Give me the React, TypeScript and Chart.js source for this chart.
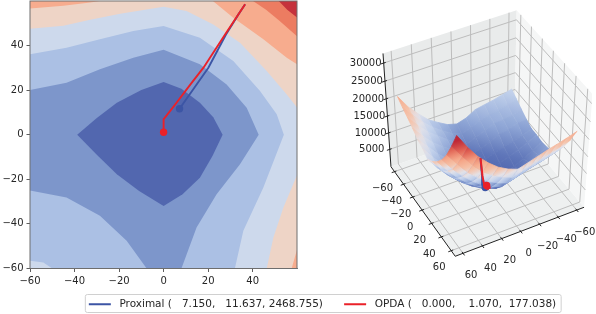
import React, { useEffect, useRef } from "react";
import { Chart, registerables } from "chart.js";

Chart.register(...registerables);

const FONT = "'DejaVu Sans'";
const TEXT = "#262626";

// ---- left panel: contour regions {f < level}, in data units ----
const fullRegion = [[-60, -60], [60, -60], [60, 60], [-60, 60]];
const below28k = [[-60, -60], [60, -60], [60, 52.4], [55.5, 56], [51.6, 60], [-60, 60]];
const below24k = [[-60, -60], [60, -60], [60, 44], [52, 51], [46, 56], [40, 60], [-60, 60]];
const below20k = [[-60, -60], [57.5, -60], [60, -51.3], [60, 31.5], [55.3, 34.5], [44.8, 42.7], [31.3, 52.4], [22, 60], [-28, 60], [-33, 59.2], [-45, 57.8], [-60, 56.5]];
const below16k = [[-60, -60], [46.3, -60], [49.3, -46.1], [53.8, -32.7], [60, -18], [60, 12], [55.3, 18], [46.3, 28.5], [34.3, 41.2], [22.3, 49.4], [10.3, 55.4], [0, 57.3], [-19.5, 54.2], [-33, 51.5], [-45, 48.8], [-60, 47.5]];
const below12k = [[-50, -60], [32, -60], [35.8, -43.1], [44.8, -23.7], [54, 0], [50.8, 9.1], [43.3, 19.6], [31.3, 33], [16.3, 43.4], [0, 48.7], [-13.6, 46.4], [-28.6, 42.7], [-43.6, 39], [-60, 36], [-60, -56.5], [-54, -57.3]];
const below8k = [[-7.6, -60], [8, -60], [14.8, -41.6], [23.8, -26.7], [34.3, -13.3], [42.7, 0], [37.3, 12], [28.3, 22.5], [16.3, 31.5], [0, 38], [-13.6, 34.5], [-28.6, 29.3], [-43.6, 23.3], [-60, 20], [-60, -25], [-43.6, -28.2], [-28.6, -36.4], [-16.6, -47.6]];
const below4k = [[-38.8, 0], [-30, 7.5], [-21, 14.3], [-10, 20], [0, 23.6], [8, 20.6], [16.3, 14.3], [22.3, 7.8], [26.5, 0], [22, -9.5], [16.3, -19.3], [8.5, -26.7], [0, -32], [-11, -25.3], [-21, -17.8], [-30, -9]];
const regionList = [fullRegion, below28k, below24k, below20k, below16k, below12k, below8k, below4k];
const regionColors = ["#c5323c", "#ec7c61", "#f7ac8e", "#eed4c6", "#cdd9ec", "#abc0e4", "#7d96cb", "#5267af"];
const planeTicks = [-60, -40, -20, 0, 20, 40];

// ---- the two paths ----
const proximalX = [36.6, 33.6, 28, 20.1, 13, 7.15];
const proximalY = [58.4, 53.9, 44.9, 30, 19.9, 11.637];
const proximalZ = [23500, 20000, 14900, 8360, 4550, 2468.755];
const opdaX = [36.6, 27.6, 17.9, 11.8, 5.8, 0.6, 0, 0];
const opdaY = [58.4, 44.9, 30, 22.2, 14.3, 7.6, 7, 1.07];
const opdaZ = [23500, 14800, 7940, 4800, 2400, 900, 820, 177.038];
const proximalLabel = "Proximal (   7.150,   11.637, 2468.755)";
const opdaLabel = "OPDA (   0.000,    1.070,  177.038)";
const proximalColor = "#3c55a5";
const opdaColor = "#ea2129";

// ---- right panel: surface heights, rows y = -60..60, columns x = -60..60 ----
const gridAxis = [-60, -50, -40, -30, -20, -10, 0, 10, 20, 30, 40, 50, 60];
const surfaceZ = [
  [12300, 11600, 10900, 10400, 9880, 8300, 7500, 8280, 9900, 11700, 14400, 17400, 21300],
  [11050, 10300, 9700, 9100, 8400, 7300, 6250, 7450, 9200, 11200, 13700, 16700, 20000],
  [9800, 9040, 8600, 8450, 7330, 6180, 5000, 6580, 8380, 10500, 12740, 15600, 18900],
  [8550, 8400, 7500, 6900, 5700, 4530, 3750, 5030, 7230, 9150, 11400, 14350, 17700],
  [7600, 6540, 5720, 5020, 4100, 3280, 2500, 3580, 4880, 7300, 9940, 13100, 16300],
  [7550, 6210, 5010, 3950, 2940, 2030, 1250, 2330, 3930, 6050, 8690, 11850, 15520],
  [7300, 5640, 4160, 2860, 1730, 780, 0, 1080, 2680, 4800, 7440, 10600, 14270],
  [7580, 6240, 5040, 3980, 2970, 2060, 1280, 2360, 3960, 6080, 8720, 11880, 15550],
  [8010, 7200, 6370, 5640, 4790, 3940, 3160, 4240, 5840, 7960, 10600, 13760, 17430],
  [10460, 9600, 8820, 8120, 7290, 6440, 5660, 6740, 8340, 10460, 13100, 16260, 19930],
  [13580, 12720, 11940, 11240, 10410, 9560, 8780, 9860, 11460, 13580, 16220, 19600, 23300],
  [17300, 16440, 15660, 14960, 14130, 13280, 12500, 13580, 15180, 17300, 20200, 23800, 27600],
  [21640, 20780, 20000, 19300, 18470, 17620, 16840, 17920, 19520, 21800, 24600, 28200, 32400],
];
const axisTicks3d = [-60, -40, -20, 0, 20, 40, 60];
const zTicks3d = [5000, 10000, 15000, 20000, 25000, 30000];
const colorLevels = [0, 4000, 8000, 12000, 15000, 18000, 22000, 26000, 30000];
const colorStops = [[70, 90, 168], [95, 118, 185], [145, 168, 215], [195, 210, 236], [228, 226, 232], [245, 195, 170], [245, 165, 135], [225, 100, 85], [190, 40, 55]];

// view of the 3D box
const AZ = (62 * Math.PI) / 180;
const EL = (45 * Math.PI) / 180;
const DIST = 10;
const HZ = 1.15;
const LIM = 68;
const ZMIN = -400;
const ZMAX = 32600;
const SX = 153;
const SY = 143;
const CX = 487;
const CY = 132;

function project(x: number, y: number, z: number) {
  const px = x / (2 * LIM);
  const py = y / (2 * LIM);
  const pz = ((z - ZMIN) / (ZMAX - ZMIN) - 0.5) * HZ;
  const r = -Math.sin(AZ) * px + Math.cos(AZ) * py;
  const u = -Math.sin(EL) * Math.cos(AZ) * px - Math.sin(EL) * Math.sin(AZ) * py + Math.cos(EL) * pz;
  const d = Math.cos(EL) * Math.cos(AZ) * px + Math.cos(EL) * Math.sin(AZ) * py + Math.sin(EL) * pz;
  const f = DIST / (DIST - d);
  return { x: r * f, y: u * f, d };
}

function shade(z: number) {
  if (z <= colorLevels[0]) return colorStops[0];
  for (let i = 1; i < colorLevels.length; i++) {
    if (z <= colorLevels[i]) {
      const t = (z - colorLevels[i - 1]) / (colorLevels[i] - colorLevels[i - 1]);
      return colorStops[i - 1].map((c, k) => c + (colorStops[i][k] - c) * t);
    }
  }
  return colorStops[colorStops.length - 1];
}
const rgb = (c: number[]) => `rgb(${Math.round(c[0])},${Math.round(c[1])},${Math.round(c[2])})`;

function line3d(pts: number[][], color: string, width: number, order: number) {
  return {
    data: pts.map((p) => project(p[0], p[1], p[2])),
    showLine: true, pointRadius: 0, borderColor: color, borderWidth: width, backgroundColor: color, fill: false, order,
  };
}
function pane3d(pts: number[][], color: string, order: number) {
  return {
    data: pts.map((p) => project(p[0], p[1], p[2])),
    showLine: true, pointRadius: 0, borderWidth: 0, borderColor: color, backgroundColor: color, fill: "shape", order,
  };
}

function surfaceDatasets() {
  const quads: any[] = [];
  for (let j = 0; j < gridAxis.length - 1; j++) {
    for (let i = 0; i < gridAxis.length - 1; i++) {
      const corners = [[i, j], [i + 1, j], [i + 1, j + 1], [i, j + 1]].map(([a, b]) => ({
        p: project(gridAxis[a], gridAxis[b], surfaceZ[b][a]),
        z: surfaceZ[b][a],
      }));
      const depth = corners.reduce((s, c) => s + c.p.d, 0) / 4;
      quads.push({ corners, depth });
    }
  }
  quads.sort((a, b) => a.depth - b.depth);
  return quads.map((q, idx) => {
    const lo = q.corners.reduce((m: any, c: any) => (c.z < m.z ? c : m));
    const hi = q.corners.reduce((m: any, c: any) => (c.z > m.z ? c : m));
    const paint = (ctx: any) => {
      const chart = ctx.chart;
      const sx = chart.scales.x;
      const sy = chart.scales.y;
      const flat = rgb(shade((lo.z + hi.z) / 2));
      if (!sx || !sy) return flat;
      const x0 = sx.getPixelForValue(lo.p.x);
      const y0 = sy.getPixelForValue(lo.p.y);
      const x1 = sx.getPixelForValue(hi.p.x);
      const y1 = sy.getPixelForValue(hi.p.y);
      if (![x0, y0, x1, y1].every(Number.isFinite) || Math.hypot(x1 - x0, y1 - y0) < 1) return flat;
      const g = chart.ctx.createLinearGradient(x0, y0, x1, y1);
      for (let k = 0; k <= 4; k++) g.addColorStop(k / 4, rgb(shade(lo.z + ((hi.z - lo.z) * k) / 4)));
      return g;
    };
    return {
      data: q.corners.map((c: any) => ({ x: c.p.x, y: c.p.y })),
      showLine: true, pointRadius: 0, borderWidth: 0.8, borderColor: paint, backgroundColor: paint, fill: "shape",
      order: 3000 - idx,
    };
  });
}

function pathDataset(xs: number[], ys: number[], zs: number[], color: string, order: number, radius: number) {
  const last = xs.length - 1;
  return {
    data: xs.map((x, i) => project(x, ys[i], zs[i])),
    showLine: true, borderColor: color, backgroundColor: color, borderWidth: 2, fill: false, order,
    pointRadius: (c: any) => (c.dataIndex === last ? radius : 0),
    pointBorderWidth: 0,
  };
}

const leftPlugin = {
  id: "leftFrame",
  afterLayout(chart: any) {
    const lg = chart.legend;
    lg.left = 49;
    lg.right = 596;
    lg.top += 5.5;
    lg.bottom += 5.5;
  },
  afterDatasetsDraw(chart: any) {
    const { ctx, chartArea: a } = chart;
    ctx.save();
    ctx.strokeStyle = "#6e6e6e";
    ctx.lineWidth = 1;
    ctx.strokeRect(a.left, a.top, a.right - a.left, a.bottom - a.top);
    ctx.restore();
  },
  afterDraw(chart: any) {
    const boxes = chart.legend.legendHitBoxes;
    if (!boxes || !boxes.length) return;
    const { ctx } = chart;
    const l = boxes[0].left - 3.5;
    const last = boxes[boxes.length - 1];
    const r = last.left + last.width + 5;
    ctx.save();
    ctx.strokeStyle = "#d0d0d0";
    ctx.lineWidth = 1;
    ctx.beginPath();
    ctx.roundRect(l, 294.5, r - l, 18, 2);
    ctx.stroke();
    ctx.restore();
  },
};

const labels3d = {
  id: "labels3d",
  afterDatasetsDraw(chart: any) {
    const { ctx, scales } = chart;
    const put = (p: any, dx: number, dy: number, text: string) => {
      ctx.fillText(text, scales.x.getPixelForValue(p.x) + dx, scales.y.getPixelForValue(p.y) + dy);
    };
    const fmt = (v: number) => (v < 0 ? "\u2212" + Math.abs(v) : String(v));
    ctx.save();
    ctx.font = `10px ${FONT}`;
    ctx.fillStyle = TEXT;
    ctx.textAlign = "center";
    ctx.textBaseline = "middle";
    axisTicks3d.forEach((t) => put(project(t, LIM, ZMIN), 8, 22, fmt(t)));
    axisTicks3d.forEach((t) => put(project(LIM, t, ZMIN), -12, 17, fmt(t)));
    zTicks3d.forEach((t) => put(project(LIM, -LIM, t), -18, 0.5, String(t)));
    ctx.restore();
  },
};

export default function App() {
  const leftRef = useRef<HTMLCanvasElement>(null);
  const rightRef = useRef<HTMLCanvasElement>(null);

  useEffect(() => {
    document.body.style.margin = "0";
    const tickStyle = { font: { family: FONT, size: 10 }, color: TEXT, padding: 3, maxRotation: 0, autoSkip: false,
      callback: (v: any) => (Number(v) < 0 ? "\u2212" + Math.abs(Number(v)) : String(v)) };
    const gridStyle = { drawOnChartArea: false, drawTicks: true, tickLength: 3.5, color: "#333333", lineWidth: 0.8 };
    const setTicks = (s: any) => { s.ticks = planeTicks.map((value) => ({ value })); };

    const regionSets = regionList.map((pts, i) => ({
      data: pts.map((p) => ({ x: p[0], y: p[1] })),
      showLine: true, pointRadius: 0, borderWidth: 0, borderColor: regionColors[i], backgroundColor: regionColors[i],
      fill: "shape", order: 20 - i,
    }));
    const makeLeft = (xs: number[], ys: number[], color: string, label: string, order: number) => ({
      label, data: xs.map((x, i) => ({ x, y: ys[i] })), showLine: true, borderColor: color, backgroundColor: color,
      borderWidth: 1.9, fill: false, order, pointBorderWidth: 0,
      pointRadius: (c: any) => (c.dataIndex === xs.length - 1 ? 3.7 : 0),
    });

    const left = new Chart(leftRef.current!, {
      type: "scatter",
      data: {
        datasets: [
          makeLeft(proximalX, proximalY, proximalColor, proximalLabel, 2),
          makeLeft(opdaX, opdaY, opdaColor, opdaLabel, 1),
          ...regionSets,
        ] as any,
      },
      options: {
        responsive: false, animation: false, events: [],
        layout: { autoPadding: false, padding: { left: 0, top: 1, right: 0, bottom: 0 } },
        scales: {
          x: { type: "linear", min: -60, max: 59.9, ticks: tickStyle as any, grid: gridStyle as any, border: { color: "#6e6e6e" },
            afterBuildTicks: setTicks, afterFit: (s: any) => { s.height = 20.5; s.paddingLeft = 0; s.paddingRight = 0; } },
          y: { type: "linear", min: -60, max: 59.9, ticks: tickStyle as any, grid: gridStyle as any, border: { color: "#6e6e6e" },
            afterBuildTicks: setTicks, afterFit: (s: any) => { s.width = 30; s.paddingTop = 0; s.paddingBottom = 0; } },
          spacer: { type: "linear", position: "right", display: true, ticks: { display: false }, grid: { display: false }, border: { display: false },
            afterFit: (s: any) => { s.width = 299; s.paddingTop = 0; s.paddingBottom = 0; } },
        } as any,
        plugins: {
          tooltip: { enabled: false },
          legend: {
            display: true, position: "bottom",
            labels: {
              boxWidth: 22, boxHeight: 2, padding: 4.5, color: TEXT, font: { family: FONT, size: 10.5 },
              generateLabels: (chart: any) =>
                Chart.defaults.plugins.legend.labels.generateLabels(chart)
                  .filter((it: any) => !!it.text)
                  .sort((p: any, q: any) => p.datasetIndex - q.datasetIndex)
                  .map((it: any, i: number) => ({ ...it, lineWidth: 0, text: " " + it.text + (i === 0 ? "     " : "") })),
            },
          },
        },
      },
      plugins: [leftPlugin],
    });

    const b = LIM;
    const panes = [
      pane3d([[b, b, ZMIN], [-b, b, ZMIN], [-b, -b, ZMIN], [b, -b, ZMIN]], "#eef0f0", 5003),
      pane3d([[b, -b, ZMIN], [-b, -b, ZMIN], [-b, -b, ZMAX], [b, -b, ZMAX]], "#e9ebeb", 5002),
      pane3d([[-b, b, ZMIN], [-b, -b, ZMIN], [-b, -b, ZMAX], [-b, b, ZMAX]], "#f5f6f6", 5001),
    ];
    const GRID = "#bdbdbd";
    const grid = [
      ...axisTicks3d.map((t) => line3d([[t, b, ZMIN], [t, -b, ZMIN], [t, -b, ZMAX]], GRID, 1, 4500)),
      ...axisTicks3d.map((t) => line3d([[b, t, ZMIN], [-b, t, ZMIN], [-b, t, ZMAX]], GRID, 1, 4500)),
      ...zTicks3d.map((t) => line3d([[b, -b, t], [-b, -b, t], [-b, b, t]], GRID, 1, 4500)),
    ];
    const AX = "#222222";
    const axes = [
      line3d([[b, b, ZMIN], [-b, b, ZMIN]], AX, 1, 4000),
      line3d([[b, -b, ZMIN], [b, b, ZMIN]], AX, 1, 4000),
      line3d([[b, -b, ZMIN], [b, -b, ZMAX]], AX, 1, 4000),
      ...axisTicks3d.map((t) => line3d([[t, b - 2, ZMIN], [t, b + 3, ZMIN]], AX, 1, 4000)),
      ...axisTicks3d.map((t) => line3d([[b - 2, t, ZMIN], [b + 3, t, ZMIN]], AX, 1, 4000)),
      ...zTicks3d.map((t) => line3d([[b + 3, -b, t], [b - 2, -b, t]], AX, 1, 4000)),
    ];

    const right = new Chart(rightRef.current!, {
      type: "scatter",
      data: {
        datasets: [
          pathDataset(opdaX, opdaY, opdaZ, opdaColor, 1, 3.7),
          pathDataset(proximalX, proximalY, proximalZ, proximalColor, 2, 3.7),
          ...surfaceDatasets(),
          ...axes, ...grid, ...panes,
        ] as any,
      },
      options: {
        responsive: false, animation: false, events: [],
        layout: { padding: 0 },
        scales: {
          x: { type: "linear", display: false, min: (320 - CX) / SX, max: (596 - CX) / SX },
          y: { type: "linear", display: false, min: (CY - 290) / SY, max: CY / SY },
        },
        plugins: { legend: { display: false }, tooltip: { enabled: false } },
      },
      plugins: [labels3d],
    });

    return () => {
      left.destroy();
      right.destroy();
    };
  }, []);

  return (
    <div style={{ position: "relative", width: 596, height: 314, overflow: "hidden", background: "#fff" }}>
      <canvas ref={leftRef} width={596} height={314} style={{ position: "absolute", left: 0, top: 0 }} />
      <canvas ref={rightRef} width={276} height={290} style={{ position: "absolute", left: 320, top: 0 }} />
    </div>
  );
}
